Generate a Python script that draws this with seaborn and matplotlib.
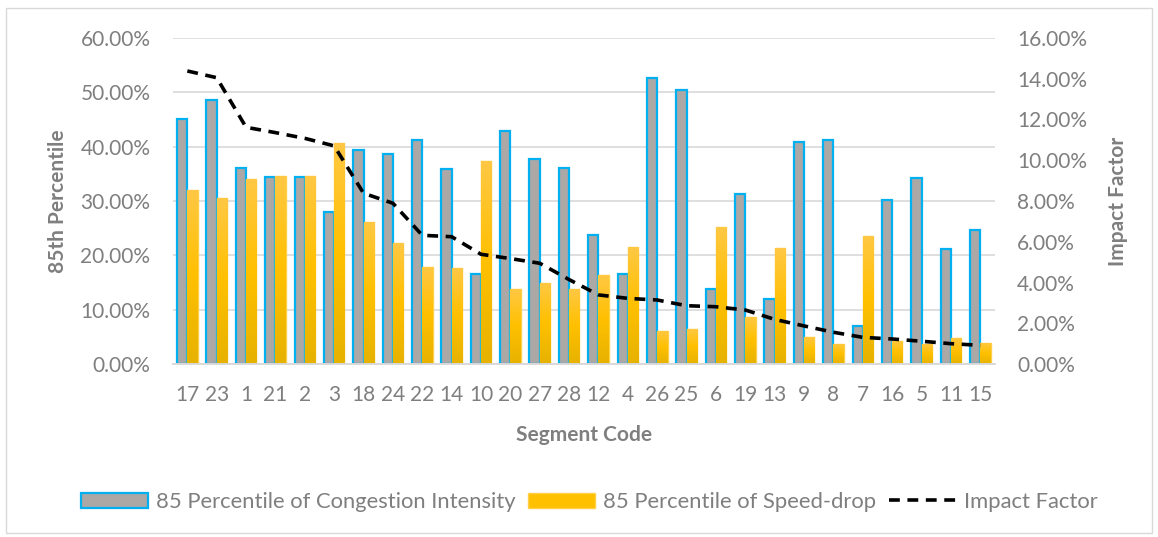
import numpy as np
import pandas as pd
import matplotlib
matplotlib.use("Agg")
import matplotlib.pyplot as plt
import seaborn as sns
from matplotlib.patches import Patch, Rectangle
from matplotlib.lines import Line2D
from matplotlib.ticker import PercentFormatter, MultipleLocator
from matplotlib.colors import LinearSegmentedColormap

# Segment codes, ordered by impact factor
codes = ["17", "23", "1", "21", "2", "3", "18", "24", "22", "14", "10", "20", "27", "28",
         "12", "4", "26", "25", "6", "19", "13", "9", "8", "7", "16", "5", "11", "15"]

# 85th percentile of congestion intensity (fraction)
congestion = [0.451, 0.485, 0.361, 0.344, 0.344, 0.279, 0.394, 0.387, 0.412, 0.358,
              0.166, 0.429, 0.378, 0.361, 0.238, 0.165, 0.526, 0.504, 0.139, 0.313,
              0.120, 0.408, 0.412, 0.070, 0.301, 0.342, 0.211, 0.247]

# 85th percentile of speed drop (fraction)
speed_drop = [0.320, 0.306, 0.341, 0.346, 0.346, 0.406, 0.261, 0.222, 0.179, 0.176,
              0.373, 0.138, 0.150, 0.138, 0.164, 0.216, 0.062, 0.065, 0.252, 0.087,
              0.213, 0.050, 0.037, 0.236, 0.043, 0.037, 0.049, 0.040]

# Impact factor per segment (fraction)
impact = [0.1437, 0.1404, 0.1161, 0.1135, 0.1107, 0.1070, 0.0838, 0.0789, 0.0632, 0.0625,
          0.0539, 0.0518, 0.0495, 0.0415, 0.0340, 0.0323, 0.0315, 0.0287, 0.0282, 0.0266,
          0.0220, 0.0188, 0.0157, 0.0132, 0.0124, 0.0113, 0.0101, 0.0093]

series_names = ["85 Percentile of Congestion Intensity", "85 Percentile of Speed-drop"]
line_name = "Impact Factor"

df = pd.DataFrame({
    "Segment Code": codes * 2,
    "value": congestion + speed_drop,
    "series": [series_names[0]] * len(codes) + [series_names[1]] * len(codes),
})

TEXT = "#7F7F7F"
GRID = "#D9D9D9"
GRAY_FILL = "#ABA8A6"
BLUE_EDGE = "#00B0F0"
GOLD = "#FFC000"
GOLD_EDGE = "#FFD04A"
FS = 15
LEG_FS = 15.8

sns.set_theme(style="white")
plt.rcParams["font.family"] = ["Lato", "DejaVu Sans"]
plt.rcParams["text.color"] = TEXT

fig = plt.figure(figsize=(11.58, 5.37), dpi=100)
ax = fig.add_axes([0.1491, 0.3216, 0.7101, 0.6082])

sns.barplot(data=df, x="Segment Code", y="value", hue="series", order=codes,
            hue_order=series_names, palette=[GRAY_FILL, GOLD], width=0.7,
            saturation=1, legend=False, ax=ax, zorder=2)

# Style the two bar series
gray_bars, gold_bars = ax.containers[0], ax.containers[1]
for bar in gray_bars:
    bar.set_edgecolor(BLUE_EDGE)
    bar.set_linewidth(1.6)
gold_cmap = LinearSegmentedColormap.from_list("gold", ["#E6B200", "#FFC000", "#FFC845"])
grad = np.linspace(0, 1, 256).reshape(-1, 1)
for bar in gold_bars:
    bar.set_edgecolor(GOLD_EDGE)
    bar.set_linewidth(1.0)
    x0, y0 = bar.get_x(), bar.get_y()
    w, h = bar.get_width(), bar.get_height()
    img = ax.imshow(grad, cmap=gold_cmap, extent=(x0, x0 + w, y0, y0 + h),
                    origin="lower", aspect="auto", zorder=2.1)
    img.set_clip_path(bar)

ax.set_xlim(-0.5, len(codes) - 0.5)
ax.set_ylim(0, 0.6)
ax.yaxis.set_major_locator(MultipleLocator(0.10))
ax.yaxis.set_major_formatter(PercentFormatter(xmax=1, decimals=2))
ax.grid(axis="y", color=GRID, linewidth=1.2, zorder=0)
ax.set_axisbelow(True)
for side in ["left", "right", "top"]:
    ax.spines[side].set_visible(False)
ax.spines["bottom"].set_color(GRID)
ax.spines["bottom"].set_linewidth(1.4)
ax.tick_params(axis="both", length=0, labelsize=FS, labelcolor=TEXT)
ax.tick_params(axis="y", pad=16)
ax.tick_params(axis="x", pad=15)
ax.set_xlabel("Segment Code", fontsize=FS, fontweight="bold", color=TEXT, labelpad=14)
ax.set_ylabel("85th Percentile", fontsize=FS, fontweight="bold", color=TEXT, labelpad=9)

# Impact factor on the secondary axis
ax2 = ax.twinx()
sns.lineplot(x=np.arange(len(codes)), y=impact, ax=ax2, color="black",
             linewidth=2.6, zorder=3)
ax2.lines[0].set_dashes([3, 2.1])
ax2.set_ylim(0, 0.16)
ax2.yaxis.set_major_locator(MultipleLocator(0.02))
ax2.yaxis.set_major_formatter(PercentFormatter(xmax=1, decimals=2))
for side in ["left", "right", "top", "bottom"]:
    ax2.spines[side].set_visible(False)
ax2.tick_params(axis="y", length=0, labelsize=FS, labelcolor=TEXT, pad=16)
ax2.set_ylabel("Impact Factor", fontsize=FS, fontweight="bold", color=TEXT, labelpad=15)
ax2.grid(False)

# Legend along the bottom
handles = [
    Patch(facecolor=GRAY_FILL, edgecolor=BLUE_EDGE, linewidth=1.6, label=series_names[0]),
    Patch(facecolor=GOLD, edgecolor=GOLD_EDGE, linewidth=1.0, label=series_names[1]),
    Line2D([0], [0], color="black", linewidth=2.6, dashes=[3, 2.1], label=line_name),
]
leg = fig.legend(handles=handles, loc="center", bbox_to_anchor=(0.509, 1 - 502 / 537),
                 ncol=3, frameon=False, fontsize=LEG_FS, handlelength=3.05,
                 handleheight=0.65, handletextpad=0.38, columnspacing=0.55)
for t in leg.get_texts():
    t.set_color(TEXT)

# Chart-area border
fig.patches.append(Rectangle((6 / 1158, 4 / 537), 1146 / 1158, 525 / 537,
                             transform=fig.transFigure, fill=False,
                             edgecolor=GRID, linewidth=1.0))

fig.savefig("out.png", dpi=100)
